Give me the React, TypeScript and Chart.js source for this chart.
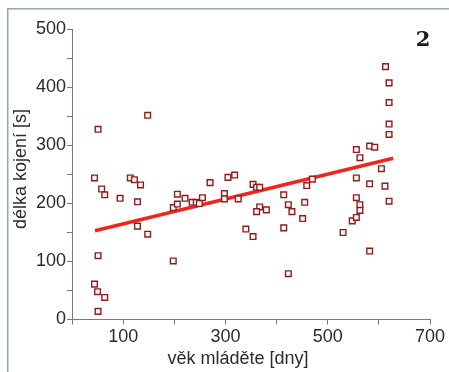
import React, { useEffect, useRef } from "react";
import { Chart, registerables } from "chart.js";

Chart.register(...registerables);

const ageDays = [
  44, 51, 58, 64, 51, 44, 50, 64, 51, 94,
  114, 122, 134, 128, 128, 148, 148, 198, 198, 206,
  206, 221, 235, 243, 249, 255, 270, 298, 298, 305,
  318, 325, 340, 354, 354, 361, 367, 367, 361, 380,
  414, 414, 423, 430, 423, 451, 455, 459, 470, 530,
  548, 556, 556, 556, 556, 563, 563, 563, 582, 582,
  582, 592, 605, 612, 613, 620, 620, 620, 620, 620,
];
const nursingSec = [
  244, 328, 225, 215, 110, 61, 48, 38, 14, 209,
  244, 241, 232, 203, 161, 352, 147, 193, 101, 216,
  199, 209, 202, 202, 200, 210, 236, 217, 208, 245,
  249, 208, 156, 233, 143, 228, 228, 194, 186, 189,
  215, 158, 198, 186, 79, 174, 202, 231, 242, 150,
  170, 176, 210, 244, 293, 279, 198, 188, 299, 234,
  118, 297, 260, 230, 436, 408, 374, 337, 319, 204,
];
const trendX = [45, 628];
const trendY = [153, 278];

const xTickLabels = [100, 300, 500, 700];
const yTickLabels = [0, 100, 200, 300, 400, 500];

const xTitle = "věk mláděte [dny]";
const yTitle = "délka kojení [s]";
const panelLabel = "2";

const AXIS = "#6f7c85";
const TEXT = "#2b2b2b";
const FONT = "'Liberation Sans', Arial, sans-serif";

export default function App() {
  const ref = useRef<HTMLCanvasElement | null>(null);

  useEffect(() => {
    if (!ref.current) return;
    const overlay = {
      id: "overlay",
      afterDraw(chart: any) {
        const ctx = chart.ctx;
        const area = chart.chartArea;
        ctx.save();
        // frame
        ctx.strokeStyle = "#8fa9b5";
        ctx.lineWidth = 1.5;
        ctx.beginPath();
        ctx.moveTo(7.75, 372);
        ctx.lineTo(7.75, 8.75);
        ctx.lineTo(449, 8.75);
        ctx.stroke();
        // axis titles
        ctx.fillStyle = TEXT;
        ctx.font = `18px ${FONT}`;
        ctx.textAlign = "center";
        ctx.textBaseline = "alphabetic";
        ctx.fillText(xTitle, 238, 364);
        ctx.save();
        ctx.translate(26, 169);
        ctx.rotate(-Math.PI / 2);
        ctx.fillText(yTitle, 0, 0);
        ctx.restore();
        // panel label
        ctx.font = `bold 21px 'DejaVu Serif', serif`;
        ctx.fillStyle = "#1a1a1a";
        ctx.fillText(panelLabel, 423, 46);
        ctx.restore();
      },
    };

    const chart = new Chart(ref.current, {
      type: "scatter",
      data: {
        datasets: [
          {
            type: "line" as any,
            data: trendX.map((x, i) => ({ x, y: trendY[i] })),
            borderColor: "#f0261c",
            borderWidth: 3.5,
            pointRadius: 0,
            order: 2,
          },
          {
            data: ageDays.map((x, i) => ({ x, y: nursingSec[i] })),
            pointStyle: "rect",
            pointRadius: 4,
            borderColor: "#8a1f1f",
            borderWidth: 1.4,
            backgroundColor: "#fff6f2",
            order: 1,
          },
        ],
      },
      options: {
        responsive: false,
        animation: false,
        events: [],
        layout: { padding: { top: 29.5, right: 19, left: 0, bottom: 0 } },
        plugins: { legend: { display: false }, tooltip: { enabled: false } },
        scales: {
          x: {
            type: "linear",
            min: 0,
            max: 700,
            afterFit: (s: any) => {
              s.height = 52.5;
            },
            ticks: {
              stepSize: 100,
              autoSkip: false,
              maxRotation: 0,
              padding: 2,
              color: TEXT,
              font: { family: FONT, size: 18 },
              callback: (v: any) => (xTickLabels.includes(Number(v)) ? String(v) : ""),
            },
            grid: { drawOnChartArea: false, drawTicks: true, tickLength: 5, color: AXIS },
            border: { display: true, color: AXIS, width: 1 },
          },
          y: {
            type: "linear",
            min: 0,
            max: 500,
            afterFit: (s: any) => {
              s.width = 72;
            },
            ticks: {
              stepSize: 50,
              autoSkip: false,
              padding: 1,
              color: TEXT,
              font: { family: FONT, size: 18 },
              callback: (v: any) => (yTickLabels.includes(Number(v)) ? String(v) : ""),
            },
            grid: { drawOnChartArea: false, drawTicks: true, tickLength: 5, color: AXIS },
            border: { display: true, color: AXIS, width: 1 },
          },
        },
      },
      plugins: [overlay],
    } as any);
    return () => chart.destroy();
  }, []);

  return (
    <div style={{ position: "fixed", left: 0, top: 0, width: 449, height: 372, background: "#fff" }}>
      <canvas ref={ref} width={449} height={372} style={{ width: 449, height: 372, display: "block" }} />
    </div>
  );
}
